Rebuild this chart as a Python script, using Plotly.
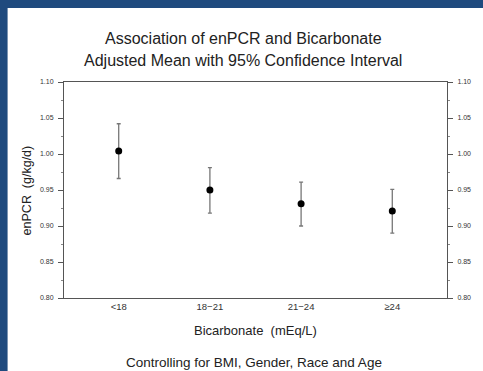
import plotly.graph_objects as go

categories = ["<18", "18\u221221", "21\u221224", "\u226524"]
means = [1.004, 0.950, 0.931, 0.921]
upper = [1.042, 0.981, 0.961, 0.951]
lower = [0.966, 0.918, 0.900, 0.890]
y_ticks = [0.80, 0.85, 0.90, 0.95, 1.00, 1.05, 1.10]
y_tick_labels = ["0.80", "0.85", "0.90", "0.95", "1.00", "1.05", "1.10"]

W, H = 483, 371
L, R, T, B = 64, 32, 82, 73
pw, ph = W - L - R, H - T - B

def px(x):
    return (x - L) / pw

def py(y):
    return (H - B - y) / ph

xs = list(range(len(categories)))
err_plus = [u - m for u, m in zip(upper, means)]
err_minus = [m - l for m, l in zip(means, lower)]

fig = go.Figure()
fig.add_trace(go.Scatter(
    x=xs, y=means, mode="markers",
    marker=dict(color="black", size=7),
    error_y=dict(type="data", symmetric=False, array=err_plus, arrayminus=err_minus,
                 color="#777777", thickness=1.3, width=2),
    showlegend=False, hoverinfo="skip"))
fig.add_trace(go.Scatter(x=[], y=[], yaxis="y2", showlegend=False))

yfont = dict(family="Liberation Sans, Arial, sans-serif", size=7, color="#333")
xfont = dict(family="Liberation Sans, Arial, sans-serif", size=9.5, color="#333")
yax = dict(range=[0.80, 1.10], tickvals=y_ticks, ticktext=y_tick_labels,
           ticks="outside", ticklen=5, tickwidth=1, tickcolor="#555",
           showline=True, linecolor="#555", linewidth=1, showgrid=False, zeroline=False,
           tickfont=yfont, ticklabelstandoff=3,
           minor=dict(dtick=0.025, ticks="outside", ticklen=2, tickcolor="#888", showgrid=False))

fig.update_layout(
    width=W, height=H,
    margin=dict(l=L, r=R, t=T, b=B),
    paper_bgcolor="#1f4a7e", plot_bgcolor="white",
    xaxis=dict(range=[-0.6, 3.6], tickvals=xs, ticktext=categories, ticks="",
               showline=True, linecolor="#555", linewidth=1, mirror=True,
               showgrid=False, zeroline=False, tickfont=xfont),
    yaxis=dict(**yax),
    yaxis2=dict(**yax, overlaying="y", side="right"),
    font=dict(family="Liberation Sans, Arial, sans-serif", color="#222"),
    shapes=[
        dict(type="rect", xref="paper", yref="paper", x0=px(7), x1=px(W + 20), y0=py(H + 20), y1=py(8),
             fillcolor="white", line=dict(width=0), layer="below"),
    ],
    annotations=[
        dict(text="Association of enPCR and Bicarbonate", x=px(245), y=py(38), xref="paper", yref="paper",
             showarrow=False, font=dict(size=16, color="#222"), xanchor="center", yanchor="middle"),
        dict(text="Adjusted Mean with 95% Confidence Interval", x=px(245), y=py(61), xref="paper", yref="paper",
             showarrow=False, font=dict(size=16, color="#222"), xanchor="center", yanchor="middle"),
        dict(text="enPCR  (g/kg/d)", x=px(27), y=py(190), xref="paper", yref="paper", textangle=-90,
             showarrow=False, font=dict(size=12.5, color="#222"), xanchor="center", yanchor="middle"),
        dict(text="Bicarbonate  (mEq/L)", x=px(257), y=py(330), xref="paper", yref="paper",
             showarrow=False, font=dict(size=13, color="#222"), xanchor="center", yanchor="middle"),
        dict(text="Controlling for BMI, Gender, Race and Age", x=px(256), y=py(362), xref="paper", yref="paper",
             showarrow=False, font=dict(size=13.5, color="#222"), xanchor="center", yanchor="middle"),
    ],
)

fig.write_html(
    "out.html",
    config={"displayModeBar": False},
    post_script="document.documentElement.style.overflow='hidden';document.body.style.overflow='hidden';document.body.style.margin='0';",
)
